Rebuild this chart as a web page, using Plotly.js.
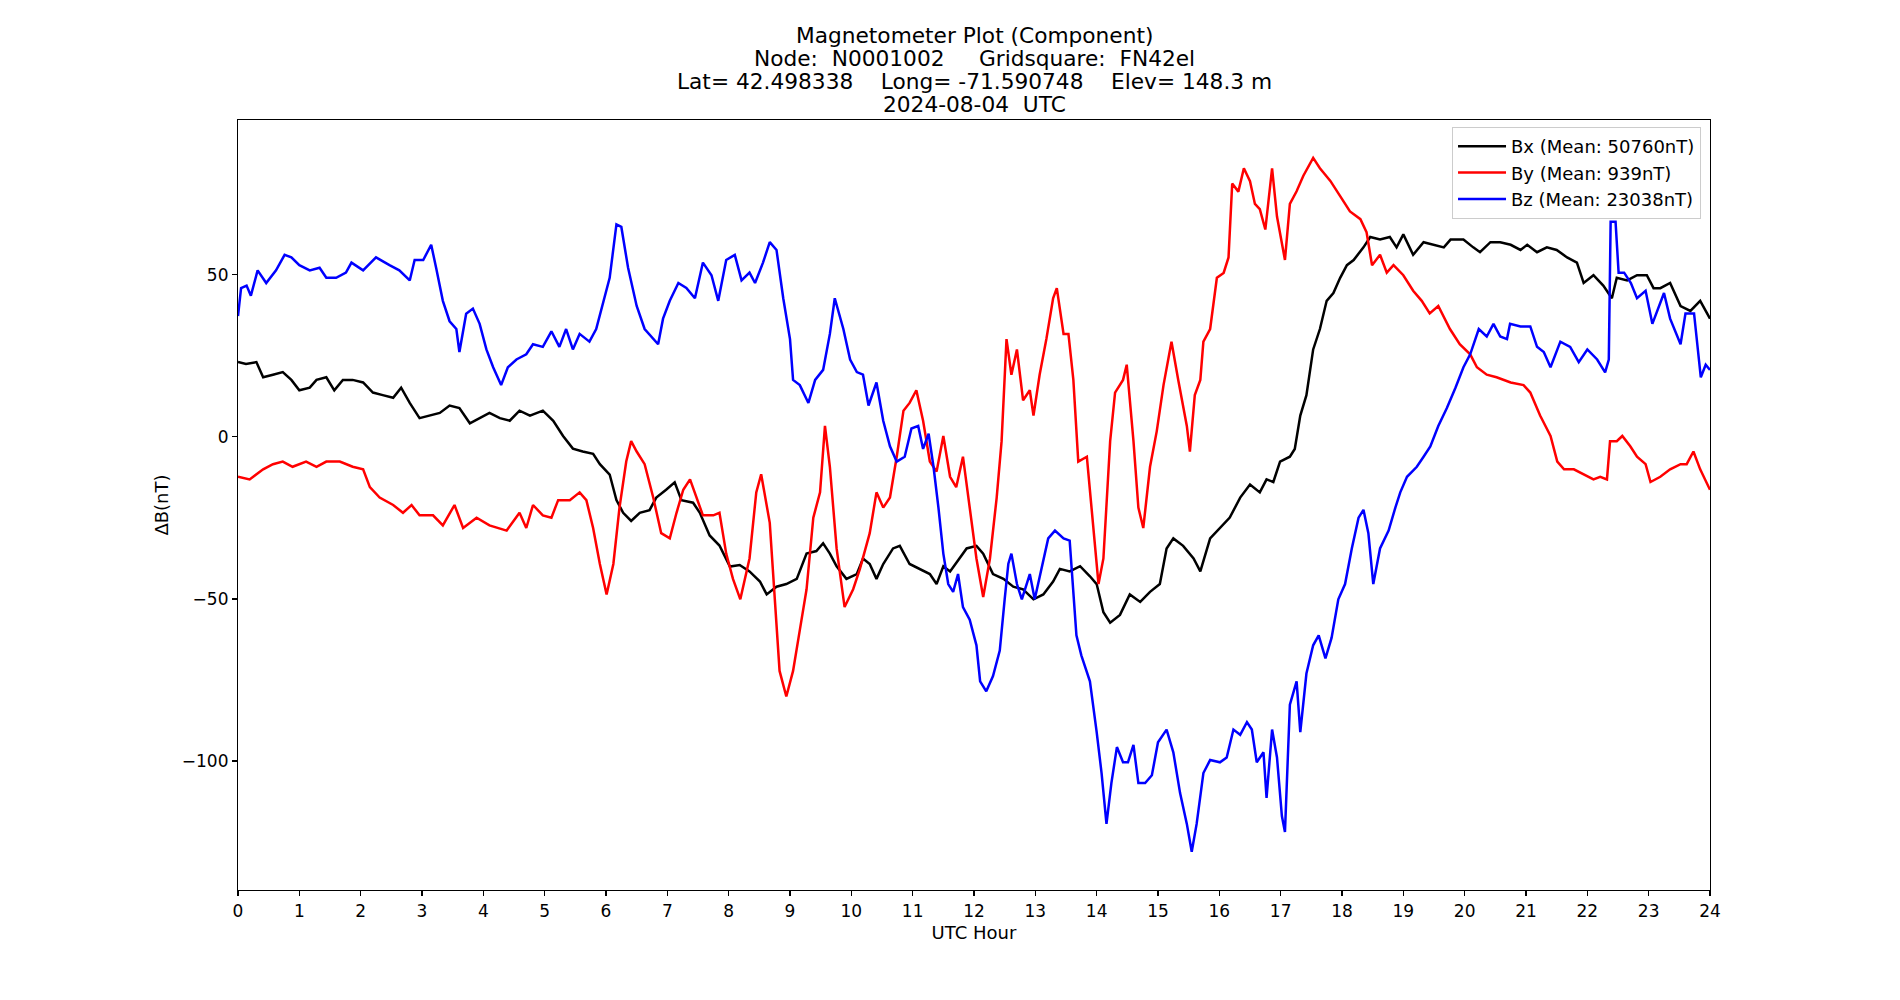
<!DOCTYPE html>
<html>
<head>
<meta charset="utf-8">
<script src="https://cdn.plot.ly/plotly-3.0.1.min.js"></script>
<style>html,body{margin:0;padding:0;background:#fff;}#chart{width:1900px;height:1000px;}</style>
</head>
<body>
<div id="chart"></div>
<script>
const xTickVals = [0,1,2,3,4,5,6,7,8,9,10,11,12,13,14,15,16,17,18,19,20,21,22,23,24];
const yTickVals = [-100,-50,0,50];
const seriesNames = ["Bx (Mean: 50760nT)", "By (Mean: 939nT)", "Bz (Mean: 23038nT)"];
const nb = '\u00A0';
const titleLines = [
  'Magnetometer Plot (Component)',
  'Node:' + nb + nb + 'N0001002' + nb.repeat(5) + 'Gridsquare:' + nb + nb + 'FN42el',
  'Lat=' + nb + '42.498338' + nb.repeat(4) + 'Long=' + nb + '-71.590748' + nb.repeat(4) + 'Elev=' + nb + '148.3' + nb + 'm',
  '2024-08-04' + nb + nb + 'UTC'
];

const bxT = [0,0.13,0.30,0.41,0.57,0.73,0.87,1.0,1.17,1.28,1.44,1.57,1.71,1.87,2.04,2.2,2.36,2.53,2.66,2.8,2.96,3.12,3.29,3.45,3.61,3.78,3.94,4.1,4.27,4.43,4.59,4.76,4.97,5.14,5.3,5.46,5.62,5.79,5.9,6.06,6.17,6.28,6.41,6.55,6.71,6.82,6.98,7.12,7.23,7.42,7.53,7.69,7.85,8.02,8.18,8.34,8.51,8.62,8.78,8.94,9.11,9.27,9.43,9.54,9.65,9.76,9.92,10.09,10.19,10.30,10.41,10.52,10.68,10.79,10.95,11.12,11.28,11.39,11.50,11.61,11.77,11.88,12.04,12.15,12.31,12.48,12.64,12.80,12.97,13.13,13.29,13.40,13.56,13.73,13.89,14.0,14.11,14.22,14.38,14.54,14.71,14.87,15.03,15.14,15.25,15.41,15.58,15.69,15.85,16.01,16.17,16.34,16.50,16.66,16.77,16.88,16.99,17.15,17.23,17.32,17.42,17.53,17.64,17.75,17.86,17.97,18.08,18.19,18.35,18.46,18.62,18.78,18.89,19.0,19.16,19.33,19.49,19.66,19.77,19.98,20.14,20.25,20.42,20.58,20.75,20.91,21.02,21.18,21.34,21.50,21.67,21.83,21.94,22.10,22.26,22.40,22.48,22.65,22.81,22.97,23.08,23.19,23.35,23.52,23.68,23.84,24.0];
const bxV = [23.1,22.5,23.1,18.4,19.2,20.0,17.6,14.4,15.2,17.6,18.4,14.4,17.6,17.6,16.8,13.7,12.9,12.1,15.2,10.5,5.8,6.6,7.4,9.7,8.9,4.2,5.8,7.4,5.8,5.0,8.1,6.6,8.1,5.0,0.3,-3.6,-4.5,-5.2,-8.4,-11.6,-19.5,-23.4,-25.9,-23.4,-22.6,-18.7,-16.3,-14.0,-19.5,-20.3,-23.4,-30.4,-33.5,-40.0,-39.5,-41.5,-44.6,-48.6,-46.2,-45.4,-43.8,-36.0,-35.2,-32.8,-36.0,-39.9,-43.8,-42.3,-37.5,-39.2,-43.8,-39.2,-34.4,-33.6,-39.2,-40.7,-42.3,-45.4,-39.9,-41.5,-37.5,-34.4,-33.6,-36.0,-42.3,-43.8,-46.2,-47.0,-50.1,-48.6,-44.6,-40.7,-41.5,-39.9,-43.0,-45.4,-54.1,-57.3,-54.9,-48.6,-50.9,-47.8,-45.4,-34.4,-31.3,-33.6,-37.5,-41.5,-31.3,-28.1,-24.9,-18.7,-14.7,-17.1,-13.1,-13.9,-7.6,-6.1,-3.7,6.6,12.9,27.0,33.3,42.0,44.4,49.1,53.0,54.6,58.5,61.7,60.9,61.7,58.5,62.5,56.2,60.1,59.3,58.5,60.9,60.9,58.5,57.0,60.1,60.1,59.3,57.7,59.3,57.0,58.5,57.7,55.4,53.8,47.5,49.9,46.7,42.8,49.1,48.3,49.9,49.9,45.9,45.9,47.5,40.4,38.9,42.0,36.5];

const byT = [0,0.19,0.41,0.57,0.73,0.89,1.11,1.28,1.44,1.66,1.87,2.04,2.15,2.31,2.53,2.69,2.83,2.96,3.18,3.34,3.53,3.67,3.89,4.1,4.38,4.59,4.70,4.81,4.97,5.11,5.22,5.41,5.57,5.68,5.79,5.90,6.01,6.12,6.22,6.33,6.41,6.50,6.63,6.77,6.90,7.04,7.15,7.26,7.37,7.47,7.58,7.75,7.85,7.96,8.07,8.19,8.34,8.45,8.53,8.67,8.75,8.83,8.94,9.05,9.16,9.27,9.38,9.49,9.57,9.65,9.76,9.89,10.03,10.14,10.30,10.41,10.52,10.63,10.74,10.85,10.95,11.06,11.17,11.28,11.39,11.50,11.61,11.71,11.82,11.93,12.04,12.15,12.26,12.37,12.45,12.53,12.61,12.70,12.80,12.91,12.97,13.07,13.18,13.29,13.35,13.46,13.54,13.62,13.70,13.84,13.95,14.03,14.11,14.22,14.30,14.43,14.49,14.60,14.68,14.76,14.87,14.98,15.09,15.22,15.33,15.47,15.52,15.60,15.69,15.74,15.85,15.96,16.07,16.15,16.21,16.31,16.40,16.50,16.58,16.66,16.75,16.86,16.94,17.07,17.15,17.26,17.37,17.53,17.64,17.81,17.97,18.13,18.30,18.40,18.49,18.62,18.73,18.84,19.0,19.16,19.30,19.43,19.57,19.76,19.92,20.09,20.20,20.36,20.52,20.75,20.96,21.07,21.23,21.40,21.51,21.62,21.78,21.94,22.10,22.21,22.32,22.37,22.48,22.57,22.70,22.81,22.95,23.03,23.19,23.35,23.52,23.62,23.73,23.84,24.0];
const byV = [-12.3,-13.1,-10.0,-8.4,-7.6,-9.2,-7.6,-9.2,-7.6,-7.6,-9.2,-10.0,-15.5,-18.7,-21.0,-23.4,-21.0,-24.2,-24.2,-27.3,-21.0,-28.1,-24.9,-27.3,-28.9,-23.4,-28.1,-21.0,-24.2,-24.9,-19.5,-19.5,-17.1,-19.5,-28.1,-39.2,-48.6,-39.2,-21.8,-7.6,-1.3,-4.5,-8.4,-18.7,-29.7,-31.3,-23.4,-16.3,-13.1,-18.7,-24.2,-24.2,-23.4,-36.0,-43.8,-50.1,-37.5,-17.1,-11.5,-26.5,-48.6,-72.2,-80.1,-72.2,-59.6,-47.0,-24.9,-17.1,3.4,-9.2,-34.4,-52.5,-47.0,-40.7,-29.7,-17.1,-21.8,-18.7,-6.1,8.1,10.5,14.4,5.0,-7.6,-10.7,0.3,-12.3,-15.5,-6.1,-21.8,-37.5,-49.4,-37.5,-18.7,-1.3,30.2,19.2,27.0,11.3,14.4,6.6,19.2,30.2,42.8,45.9,31.8,31.8,17.6,-7.6,-6.1,-29.7,-45.4,-37.5,-1.3,13.7,17.6,22.3,-1.3,-21.8,-28.1,-9.2,1.8,16.0,29.4,17.6,3.4,-4.5,12.9,17.6,29.4,33.3,49.1,50.6,55.4,78.2,75.7,82.9,78.9,71.9,70.3,64.0,82.9,68.0,54.6,71.9,75.8,80.6,86.1,82.9,79.0,74.3,69.6,67.2,63.2,53.0,56.2,50.7,53.0,49.9,45.1,42.0,38.1,40.4,33.3,28.6,25.5,21.5,19.2,18.4,16.8,16.0,13.7,6.6,0.3,-7.6,-10.0,-10.0,-11.5,-13.1,-12.3,-13.1,-1.3,-1.3,0.3,-2.9,-6.1,-8.4,-13.9,-12.3,-10.0,-8.4,-8.4,-4.5,-10.0,-16.3];

const bzT = [0,0.05,0.14,0.21,0.32,0.46,0.62,0.76,0.87,1.0,1.17,1.33,1.44,1.60,1.76,1.85,2.04,2.25,2.47,2.63,2.80,2.88,3.02,3.15,3.23,3.34,3.45,3.56,3.61,3.72,3.83,3.94,4.05,4.16,4.29,4.40,4.54,4.70,4.81,4.97,5.11,5.24,5.35,5.46,5.57,5.73,5.84,5.95,6.06,6.17,6.25,6.36,6.50,6.63,6.77,6.85,6.93,7.04,7.18,7.31,7.45,7.58,7.72,7.83,7.96,8.10,8.21,8.34,8.43,8.56,8.67,8.78,8.89,9.0,9.05,9.16,9.30,9.41,9.54,9.65,9.73,9.87,9.98,10.09,10.19,10.28,10.41,10.52,10.63,10.74,10.87,10.98,11.09,11.17,11.26,11.34,11.42,11.50,11.58,11.66,11.74,11.82,11.93,12.04,12.10,12.20,12.31,12.42,12.50,12.56,12.61,12.70,12.78,12.91,12.99,13.10,13.21,13.32,13.46,13.56,13.67,13.75,13.89,14.0,14.08,14.16,14.24,14.33,14.43,14.51,14.60,14.68,14.79,14.90,15.0,15.14,15.25,15.36,15.47,15.55,15.63,15.74,15.85,16.01,16.12,16.23,16.34,16.45,16.53,16.61,16.72,16.77,16.86,16.94,17.02,17.07,17.15,17.26,17.32,17.42,17.53,17.62,17.73,17.83,17.94,18.05,18.16,18.27,18.35,18.43,18.51,18.62,18.76,18.87,18.95,19.06,19.22,19.33,19.44,19.57,19.71,19.85,19.98,20.09,20.23,20.36,20.47,20.58,20.69,20.74,20.91,21.07,21.18,21.29,21.40,21.56,21.72,21.86,22.0,22.16,22.29,22.35,22.38,22.46,22.51,22.60,22.71,22.81,22.95,23.06,23.14,23.25,23.35,23.52,23.60,23.74,23.85,23.93,24.0];
const bzV = [37.3,45.9,46.7,43.6,51.4,47.5,51.4,56.2,55.4,53.0,51.4,52.2,49.1,49.1,50.7,53.8,51.4,55.4,53.0,51.4,48.3,54.6,54.6,59.3,52.2,42.0,35.7,33.3,26.2,38.0,39.6,34.9,27.0,21.5,16.0,21.5,23.9,25.5,28.6,27.8,32.6,27.8,33.3,27.0,31.8,29.4,33.3,41.2,49.1,65.6,64.8,52.2,40.4,33.3,30.2,28.6,36.5,42.0,47.5,46.0,42.8,53.8,49.9,42.0,54.6,56.2,48.3,50.7,47.5,53.8,60.1,57.7,42.8,30.2,17.6,16.0,10.5,17.6,20.7,31.8,42.8,33.3,23.9,20.0,19.2,9.7,16.8,5.0,-2.9,-7.6,-6.1,2.6,3.4,-3.7,1.0,-9.2,-21.8,-36.0,-45.4,-47.8,-42.3,-52.5,-56.4,-64.3,-75.4,-78.5,-73.8,-65.9,-50.1,-39.1,-36.0,-45.4,-50.1,-42.3,-50.1,-40.7,-31.3,-28.9,-31.3,-32.0,-61.2,-67.4,-75.4,-91.1,-103.7,-119.4,-106.8,-95.7,-100.4,-100.4,-95.0,-106.8,-106.8,-104.4,-94.2,-90.3,-97.3,-109.9,-119.4,-128.0,-119.4,-103.7,-99.7,-100.4,-98.9,-90.3,-91.9,-88.0,-90.3,-100.4,-97.3,-111.4,-90.3,-98.9,-117.0,-121.9,-82.6,-75.4,-91.1,-73.0,-64.3,-61.2,-68.3,-62.0,-50.1,-45.4,-34.4,-24.9,-22.5,-29.7,-45.4,-34.4,-28.9,-21.8,-17.1,-12.3,-9.2,-6.1,-2.9,3.4,8.9,15.2,21.5,25.5,33.3,31.0,34.9,31.0,30.2,34.9,34.1,34.1,27.8,26.2,21.5,29.4,27.8,23.1,27.0,23.9,19.9,23.9,66.4,66.4,50.7,50.7,47.5,42.8,45.1,34.9,38.9,44.4,36.5,28.6,38.1,38.1,18.4,22.3,20.7];

const FONT = "DejaVu Sans, Verdana, sans-serif";
const mk = (x, y, name, color) => ({
  x: x, y: y, name: name, type: 'scatter', mode: 'lines',
  line: {color: color, width: 2.5}
});
const data = [
  mk(bxT, bxV, seriesNames[0], '#000000'),
  mk(byT, byV, seriesNames[1], '#ff0000'),
  mk(bzT, bzV, seriesNames[2], '#0000ff')
];

// title lines placed above the plot area (plot area spans 120..890 px vertically)
const titleCentersPx = [35.5, 58.5, 81.5, 104.5];
const annotations = titleLines.map((t, i) => ({
  text: t, xref: 'paper', yref: 'paper', x: 0.5,
  y: (890 - titleCentersPx[i]) / 770,
  xanchor: 'center', yanchor: 'middle', showarrow: false,
  font: {family: FONT, size: 21.7, color: '#000'}
}));

const axisCommon = {
  showline: true, mirror: true, linecolor: '#000', linewidth: 1.1,
  ticks: 'outside', ticklen: 5, tickwidth: 1.1, tickcolor: '#000',
  showgrid: false, zeroline: false,
  tickfont: {family: FONT, size: 17, color: '#000'}
};
const layout = {
  width: 1900, height: 1000,
  margin: {l: 238, r: 190, t: 120, b: 110, pad: 0},
  paper_bgcolor: '#fff', plot_bgcolor: '#fff',
  font: {family: FONT, color: '#000'},
  annotations: annotations,
  xaxis: Object.assign({}, axisCommon, {
    range: [0, 24], tickmode: 'array', tickvals: xTickVals,
    ticktext: xTickVals.map(String),
    title: {text: 'UTC Hour', font: {family: FONT, size: 18, color: '#000'}, standoff: 6}
  }),
  yaxis: Object.assign({}, axisCommon, {
    range: [-139.8, 97.8], tickmode: 'array', tickvals: yTickVals,
    title: {text: 'ΔB(nT)', font: {family: FONT, size: 18, color: '#000'}, standoff: 8}
  }),
  showlegend: true,
  legend: {
    x: 0.9939, xanchor: 'right', y: 0.991, yanchor: 'top',
    bgcolor: 'rgba(255,255,255,0.8)', bordercolor: '#cccccc', borderwidth: 1,
    itemwidth: 48,
    font: {family: FONT, size: 18, color: '#000'}
  }
};
Plotly.newPlot('chart', data, layout, {displayModeBar: false, staticPlot: true});
</script>
</body>
</html>
